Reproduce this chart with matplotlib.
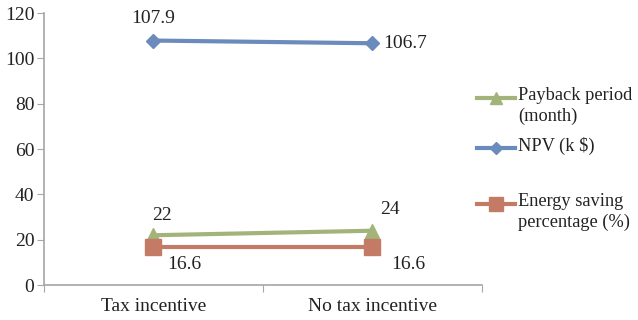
import matplotlib.pyplot as plt
from matplotlib.lines import Line2D

plt.rcParams["font.family"] = ["Liberation Serif", "DejaVu Serif"]

categories = ["Tax incentive", "No tax incentive"]
payback = [22, 24]
npv = [107.9, 106.7]
energy = [16.6, 16.6]

c_green = "#a3b47a"
c_blue = "#6a8bbb"
c_red = "#c47b66"
c_axis = "#a6a6a6"
fs = 14

fig = plt.figure(figsize=(6.38, 3.2), dpi=100)
ax = fig.add_axes([0.069, 0.109, 0.686, 0.85])

x = [0.5, 1.5]
ax.plot(x, payback, color=c_green, lw=3, marker="^", ms=10)
ax.plot(x, npv, color=c_blue, lw=3, marker="D", ms=7)
ax.plot(x, energy, color=c_red, lw=3, marker="s", ms=11)

ax.set_xlim(0, 2)
ax.set_ylim(0, 120)
ax.set_yticks(range(0, 121, 20))
ax.set_xticks([0, 1, 2])
ax.set_xticklabels([])
ax.set_xticks(x, minor=True)
ax.set_xticklabels(categories, minor=True)
ax.tick_params(axis="x", which="minor", length=0, pad=9, labelsize=fs, colors="#222222")
ax.tick_params(axis="x", which="major", length=5, color=c_axis)
ax.tick_params(axis="y", length=5, color=c_axis, labelsize=fs, labelcolor="#222222", pad=2)
for s in ["top", "right"]:
    ax.spines[s].set_visible(False)
for s in ["left", "bottom"]:
    ax.spines[s].set_color(c_axis)
    ax.spines[s].set_linewidth(1.2)

def lab(xv, yv, txt, dx, dy):
    ax.annotate(txt, (xv, yv), xytext=(dx, dy), textcoords="offset points",
                ha="center", va="center", fontsize=fs, color="#222222")

lab(x[0], npv[0], "107.9", 0, 16)
lab(x[1], npv[1], "106.7", 24, 0)
lab(x[0], payback[0], f"{payback[0]:g}", 6, 14)
lab(x[1], payback[1], f"{payback[1]:g}", 13, 15)
lab(x[0], energy[0], f"{energy[0]:g}", 22, -12)
lab(x[1], energy[1], f"{energy[1]:g}", 26, -12)

# legend
W, H = 638, 320
entries = [(c_green, "^", 10, "Payback period\n(month)", 98),
           (c_blue, "D", 7, "NPV (k $)", 148),
           (c_red, "s", 11, "Energy saving\npercentage (%)", 204)]
for col, mk, ms, txt, yp in entries:
    yf = 1 - yp / H
    fig.add_artist(Line2D([477 / W, 515 / W], [yf, yf], color=col, lw=3,
                          transform=fig.transFigure))
    fig.add_artist(Line2D([496 / W], [yf], color=col, marker=mk, ms=ms * 0.9,
                          transform=fig.transFigure))
    fig.text(518 / W, yf + 0.035, txt, fontsize=13.2, va="top", ha="left",
             color="#222222", linespacing=1.3)

fig.savefig("out.png", dpi=100)
